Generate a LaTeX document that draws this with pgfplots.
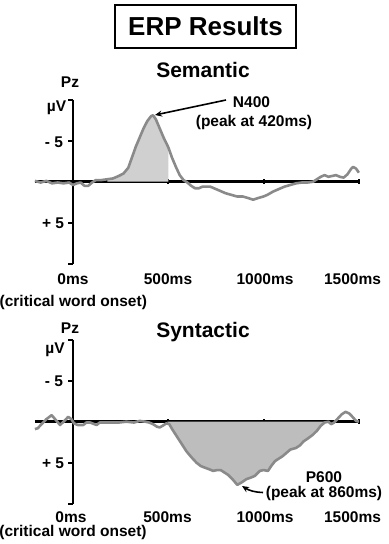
\documentclass[border=0pt]{standalone}
\usepackage{fontspec}
\setmainfont{Liberation Sans}
\usepackage{pgfplots}
\pgfplotsset{compat=1.18}
\usetikzlibrary{arrows.meta}
\definecolor{curvec}{HTML}{8A8A8A}
\definecolor{fillA}{HTML}{D0D0D0}
\definecolor{fillB}{HTML}{BDBDBD}
\newcommand{\lab}{\fontsize{15.5bp}{17bp}\selectfont\bfseries}
\begin{document}
\begin{tikzpicture}[every node/.style={inner sep=0.5bp}]
\path[use as bounding box] (0,0) rectangle (389bp,-544bp);
\pgfplotsset{erp/.style={
  scale only axis, width=324bp, height=164bp,
  anchor=origin, clip=false,
  xmin=-200, xmax=1500, ymin=-10, ymax=10, y dir=reverse,
  axis lines=middle,
  axis line style={-, line width=2.6bp, black},
  every inner x axis line/.append style={-},
  every inner y axis line/.append style={-},
  xtick={500,1000,1500}, ytick={-10,-5,5,10},
  xticklabels={,,}, yticklabels={,,,,},
  major tick length=5bp,
  tick style={line width=2bp, black},
  ytick align=outside, xtick align=center,
}}
% ---------------- Semantic ----------------
\begin{axis}[erp, at={(73bp,-181.7bp)}]
\addplot[fill=fillA, draw=none] coordinates {
(180,0) (180,-0.3) (210,-0.4) (240,-0.7) (265,-1.0) (290,-1.7) (310,-3.0) (330,-4.3) (350,-5.4)
(370,-6.5) (390,-7.4) (410,-8.0) (420,-8.1) (435,-7.6) (455,-6.5) (475,-5.4) (500,-4.2) (500,0)} -- cycle;
\addplot[curvec, line width=2.6bp, line join=round] coordinates {
(-200,-0.1) (-170,0.1) (-140,-0.1) (-110,0.2) (-80,0.1) (-50,0.2) (-20,0.1) (0,0.4) (20,0.2)
(40,0.1) (60,0.5) (80,0.5) (100,0.1) (120,-0.2) (150,-0.2) (180,-0.3) (210,-0.4) (240,-0.7)
(265,-1.0) (290,-1.7) (310,-3.0) (330,-4.3) (350,-5.4) (370,-6.5) (390,-7.4) (410,-8.0)
(420,-8.1) (435,-7.6) (455,-6.5) (475,-5.4) (500,-4.2) (520,-2.9) (540,-1.8) (560,-0.8)
(580,-0.2) (600,0.1) (620,0.5) (640,0.8) (660,0.8) (680,0.6) (700,0.6) (720,0.6) (740,0.8)
(770,1.1) (800,1.4) (830,1.6) (860,1.8) (890,1.8) (920,2.0) (945,2.2) (970,2.0) (1000,1.8)
(1020,1.6) (1050,1.2) (1080,0.9) (1110,0.6) (1140,0.4) (1170,0.2) (1200,0.1) (1230,0.1)
(1260,0) (1280,-0.3) (1300,-0.6) (1320,-0.8) (1340,-0.6) (1360,-0.7) (1380,-0.8) (1400,-0.6)
(1420,-0.5) (1440,-0.9) (1460,-1.6) (1470,-1.8) (1485,-1.6) (1500,-1.1)};
\end{axis}
% ---------------- Syntactic ----------------
\begin{axis}[erp, at={(73bp,-421.7bp)}]
\addplot[fill=fillB, draw=none] coordinates {
(495,0) (505,0.3) (520,0.9) (545,1.8) (570,2.7) (595,3.6) (620,4.3) (648,5.0) (670,5.4)
(691,5.6) (715,5.8) (735,6.0) (755,5.9) (775,5.9) (795,6.2) (815,6.5) (840,7.1) (862,7.7)
(885,7.4) (910,7.0) (935,6.8) (955,6.6) (980,6.0) (1000,5.9) (1023,6.0) (1040,5.4) (1060,4.8)
(1080,4.5) (1100,4.2) (1120,3.8) (1140,3.4) (1170,3.2) (1190,2.9) (1210,2.4) (1235,2.0)
(1258,1.6) (1280,1.1) (1300,0.5) (1320,0.1) (1330,0)} -- cycle;
\addplot[curvec, line width=2.6bp, line join=round] coordinates {
(-200,0.9) (-185,0.8) (-165,0.3) (-140,-0.3) (-112,-0.8) (-90,-0.2) (-68,0.4) (-45,-0.1)
(-25,-0.6) (-8,-0.3) (5,0.2) (25,0.4) (54,0.4) (70,0.1) (90,0.1) (124,0.4) (140,0.1)
(170,0.1) (200,0.1) (240,0.1) (280,0.0) (320,0.1) (350,-0.1) (380,0) (400,0.1) (420,0.3)
(440,0.6) (455,0.7) (470,0.5) (490,0.2) (505,0.3) (520,0.9) (545,1.8) (570,2.7) (595,3.6)
(620,4.3) (648,5.0) (670,5.4) (691,5.6) (715,5.8) (735,6.0) (755,5.9) (775,5.9) (795,6.2)
(815,6.5) (840,7.1) (862,7.7) (885,7.4) (910,7.0) (935,6.8) (955,6.6) (980,6.0) (1000,5.9)
(1023,6.0) (1040,5.4) (1060,4.8) (1080,4.5) (1100,4.2) (1120,3.8) (1140,3.4) (1170,3.2)
(1190,2.9) (1210,2.4) (1235,2.0) (1258,1.6) (1280,1.1) (1300,0.5) (1320,0.1) (1340,0.0)
(1355,0.3) (1370,0.1) (1390,-0.4) (1410,-0.9) (1430,-1.2) (1450,-1.0) (1470,-0.5)
(1485,-0.1) (1500,0.0)};
\end{axis}
% ---------------- texts ----------------
\node[draw, line width=1.6bp, minimum width=181bp, minimum height=43bp, inner sep=0pt]
  at (205.5bp,-26.5bp) {\fontsize{26bp}{28bp}\selectfont\bfseries ERP Results};
% top panel
\node[anchor=base] at (203bp,-77.5bp) {\fontsize{21bp}{23bp}\selectfont\bfseries Semantic};
\node[anchor=base] at (70bp,-87.3bp) {\lab Pz};
\node[anchor=base] at (56.5bp,-111bp) {\lab µV};
\node[anchor=base] at (54bp,-147bp) {\lab - 5};
\node[anchor=base] at (53bp,-228.3bp) {\lab + 5};
\node[anchor=base] at (251.5bp,-107.3bp) {\lab N400};
\node[anchor=base] at (254bp,-126bp) {\lab (peak at 420ms)};
\draw[line width=1.6bp, -{Stealth[length=7bp,width=6bp]}] (226bp,-100bp) -- (155bp,-115bp);
\node[anchor=base] at (73bp,-284.5bp) {\lab 0ms};
\node[anchor=base] at (168bp,-284.5bp) {\lab 500ms};
\node[anchor=base] at (265bp,-284.5bp) {\lab 1000ms};
\node[anchor=base] at (352.5bp,-284.5bp) {\lab 1500ms};
\node[anchor=base] at (73.3bp,-306.5bp) {\lab (critical word onset)};
% bottom panel
\node[anchor=base] at (203bp,-337.3bp) {\fontsize{21bp}{23bp}\selectfont\bfseries Syntactic};
\node[anchor=base] at (70bp,-333.3bp) {\lab Pz};
\node[anchor=base] at (55bp,-353bp) {\lab µV};
\node[anchor=base] at (54bp,-386bp) {\lab - 5};
\node[anchor=base] at (53bp,-468.5bp) {\lab + 5};
\node[anchor=base] at (324bp,-482.3bp) {\lab P600};
\node[anchor=base] at (324bp,-497.5bp) {\lab (peak at 860ms)};
\draw[line width=1.6bp, -{Stealth[length=7bp,width=6bp]}] (263bp,-492.5bp) to[bend left=15] (242bp,-486bp);
\node[anchor=base] at (71bp,-522.3bp) {\lab 0ms};
\node[anchor=base] at (167.5bp,-522.3bp) {\lab 500ms};
\node[anchor=base] at (265bp,-522.3bp) {\lab 1000ms};
\node[anchor=base] at (352.5bp,-522.3bp) {\lab 1500ms};
\node[anchor=base] at (73bp,-536.5bp) {\lab (critical word onset)};
\end{tikzpicture}
\end{document}
